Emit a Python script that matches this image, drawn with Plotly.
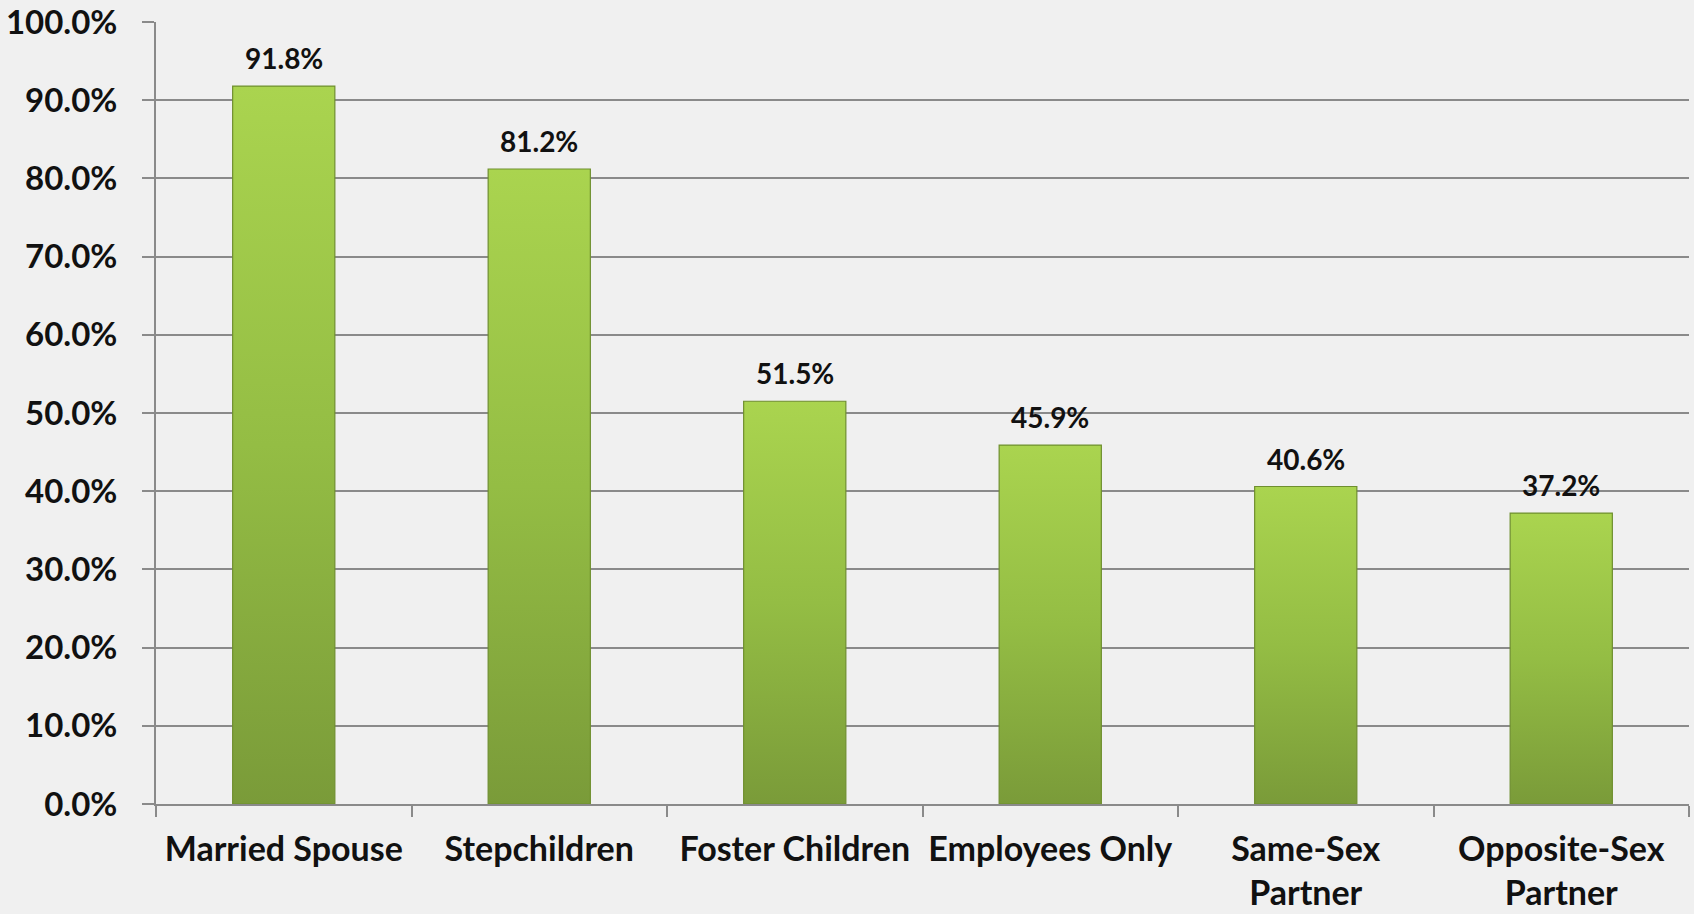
import plotly.graph_objects as go

categories = ["Married Spouse", "Stepchildren", "Foster Children", "Employees Only",
              "Same-Sex<br>Partner", "Opposite-Sex<br>Partner"]
shares = [0.918, 0.812, 0.515, 0.459, 0.406, 0.372]
y_ticks = [i / 10 for i in range(11)]

FONT = "Lato"
GRID = "#8a8a8a"

fig = go.Figure()
fig.add_trace(go.Bar(
    x=categories,
    y=shares,
    width=0.4,
    marker=dict(color="#93bb44", line=dict(color="#6f8f2f", width=1.2)),
    hoverinfo="x+y",
))

for cat, val in zip(categories, shares):
    fig.add_annotation(
        x=cat, y=val, text=f"{val:.1%}", showarrow=False,
        yanchor="bottom", yshift=9,
        font=dict(family=FONT, size=28, color="#111111", weight="bold"),
    )

fig.update_layout(
    width=1694, height=914,
    margin=dict(l=156, r=5, t=22, b=110),
    paper_bgcolor="#f0f0f0",
    plot_bgcolor="#f0f0f0",
    showlegend=False,
    bargap=0.6,
    font=dict(family=FONT, size=33, color="#111111", weight="bold"),
)
fig.update_yaxes(
    range=[0, 1], tickvals=y_ticks, tickformat=".1%",
    tickfont=dict(size=33), automargin=False, ticklabeloverflow="allow",
    showgrid=True, gridcolor=GRID, gridwidth=2,
    showline=True, linecolor=GRID, linewidth=2,
    ticks="outside", ticklen=12, tickcolor=GRID, tickwidth=2,
    ticklabelstandoff=18, zeroline=False,
)
fig.update_xaxes(
    tickfont=dict(size=34), tickangle=0, automargin=False, ticklabeloverflow="allow",
    showline=True, linecolor=GRID, linewidth=2,
    ticks="outside", ticklen=11, tickcolor=GRID, tickwidth=2,
    tickson="boundaries", ticklabelstandoff=14,
)

# vertical green gradient applied to the rendered bar shapes
post = """
var gd = document.getElementById('{plot_id}');
function paintBars(){
  var svg = gd.querySelector('svg.main-svg');
  if (!svg) return;
  var ns = 'http://www.w3.org/2000/svg';
  if (!svg.querySelector('#barfill')) {
    var defs = svg.querySelector('defs') || svg.insertBefore(document.createElementNS(ns,'defs'), svg.firstChild);
    var lg = document.createElementNS(ns, 'linearGradient');
    lg.setAttribute('id', 'barfill');
    lg.setAttribute('x1', '0'); lg.setAttribute('y1', '0');
    lg.setAttribute('x2', '0'); lg.setAttribute('y2', '1');
    [['0', '#aad44f'], ['0.5', '#94bd44'], ['1', '#7a9b39']].forEach(function(s){
      var st = document.createElementNS(ns, 'stop');
      st.setAttribute('offset', s[0]); st.setAttribute('stop-color', s[1]);
      lg.appendChild(st);
    });
    defs.appendChild(lg);
  }
  gd.querySelectorAll('.barlayer .point path').forEach(function(p){
    p.style.fill = 'url(#barfill)';
  });
}
paintBars();
gd.on('plotly_afterplot', paintBars);
setTimeout(paintBars, 50);
"""

fig.write_html("out.html", post_script=post)
